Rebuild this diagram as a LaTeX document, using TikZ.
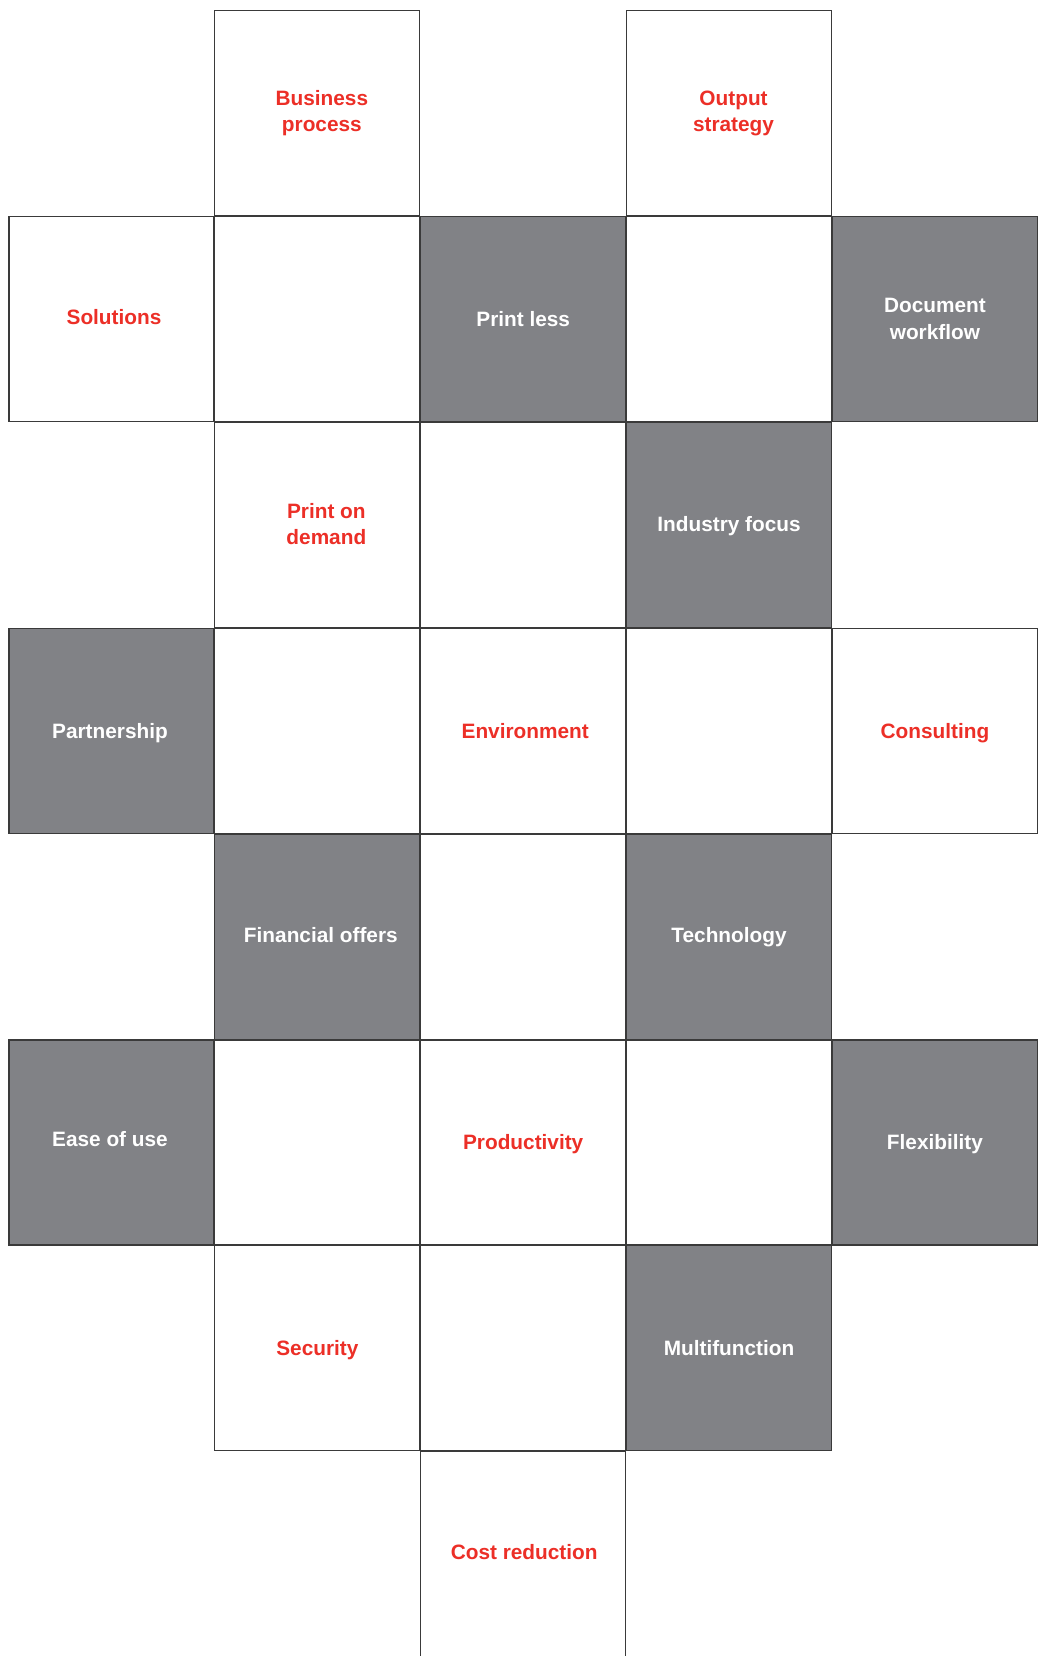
\documentclass[tikz,border=0pt]{standalone}
\usepackage{fontspec}
\setmainfont{Liberation Sans}
\definecolor{cellgray}{HTML}{818286}
\definecolor{edge}{HTML}{3A3A3A}
\definecolor{txtred}{HTML}{EC2F27}
\tikzset{
  cell/.style={rectangle, draw=edge, line width=1.1bp, minimum width=205bp, minimum height=205bp, inner sep=0pt, outer sep=0pt},
  wbox/.style={cell, fill=white},
  gbox/.style={cell, fill=cellgray},
  lbl/.style={font=\bfseries\fontsize{20.8bp}{26.4bp}\selectfont, align=center, inner sep=0pt},
  redtxt/.style={lbl, text=txtred},
  whitetxt/.style={lbl, text=white}
}
\begin{document}
\begin{tikzpicture}[x=1bp,y=-1bp]
\useasboundingbox (0,0) rectangle (1040,1656);
\clip (0,0) rectangle (1040,1656);
% row 0
\node[wbox, label={[redtxt, xshift=4.5bp, yshift=0bp]center:Business\\process}] (bp) at (317.35,113.2) {};
\node[wbox, label={[redtxt, xshift=4.5bp, yshift=-0.5bp]center:Output\\strategy}] (os) at (729.05,113.2) {};
% row 1
\node[wbox, label={[redtxt, xshift=2.5bp, yshift=2bp]center:Solutions}] (sol) at (111.5,319.05) {};
\node[wbox] (e11) at (317.35,319.05) {};
\node[gbox, label={[whitetxt, yshift=0bp]center:Print less}] (pl) at (523.2,319.05) {};
\node[wbox] (e13) at (729.05,319.05) {};
\node[gbox, label={[whitetxt, yshift=0bp]center:Document\\workflow}] (dw) at (934.9,319.05) {};
% row 2
\node[wbox, label={[redtxt, xshift=9bp, yshift=1bp]center:Print on\\demand}] (pod) at (317.35,524.9) {};
\node[wbox] (e22) at (523.2,524.9) {};
\node[gbox, label={[whitetxt, yshift=-1.5bp]center:Industry focus}] (ind) at (729.05,524.9) {};
% row 3
\node[gbox, label={[whitetxt, xshift=-1.5bp, yshift=-2bp]center:Partnership}] (par) at (111.5,730.75) {};
\node[wbox] (e31) at (317.35,730.75) {};
\node[wbox, label={[redtxt, xshift=2bp, yshift=0bp]center:Environment}] (env) at (523.2,730.75) {};
\node[wbox] (e33) at (729.05,730.75) {};
\node[wbox, label={[redtxt, yshift=-2bp]center:Consulting}] (con) at (934.9,730.75) {};
% row 4
\node[gbox, label={[whitetxt, xshift=3.5bp, yshift=2bp]center:Financial offers}] (fin) at (317.35,936.6) {};
\node[wbox] (e42) at (523.2,936.6) {};
\node[gbox, label={[whitetxt, yshift=-0.5bp]center:Technology}] (tec) at (729.05,936.6) {};
% row 5
\node[gbox, label={[whitetxt, xshift=-1.5bp, yshift=3bp]center:Ease of use}] (eou) at (111.5,1142.45) {};
\node[wbox] (e51) at (317.35,1142.45) {};
\node[wbox, label={[redtxt, yshift=-2bp]center:Productivity}] (pro) at (523.2,1142.45) {};
\node[wbox] (e53) at (729.05,1142.45) {};
\node[gbox, label={[whitetxt, yshift=-2bp]center:Flexibility}] (fle) at (934.9,1142.45) {};
% row 6
\node[wbox, label={[redtxt, yshift=-2bp]center:Security}] (sec) at (317.35,1348.3) {};
\node[wbox] (e62) at (523.2,1348.3) {};
\node[gbox, label={[whitetxt, yshift=0bp]center:Multifunction}] (mul) at (729.05,1348.3) {};
% row 7
\node[wbox, label={[redtxt, xshift=1bp, yshift=2bp]center:Cost reduction}] (cr) at (523.2,1554.15) {};
\end{tikzpicture}
\end{document}
